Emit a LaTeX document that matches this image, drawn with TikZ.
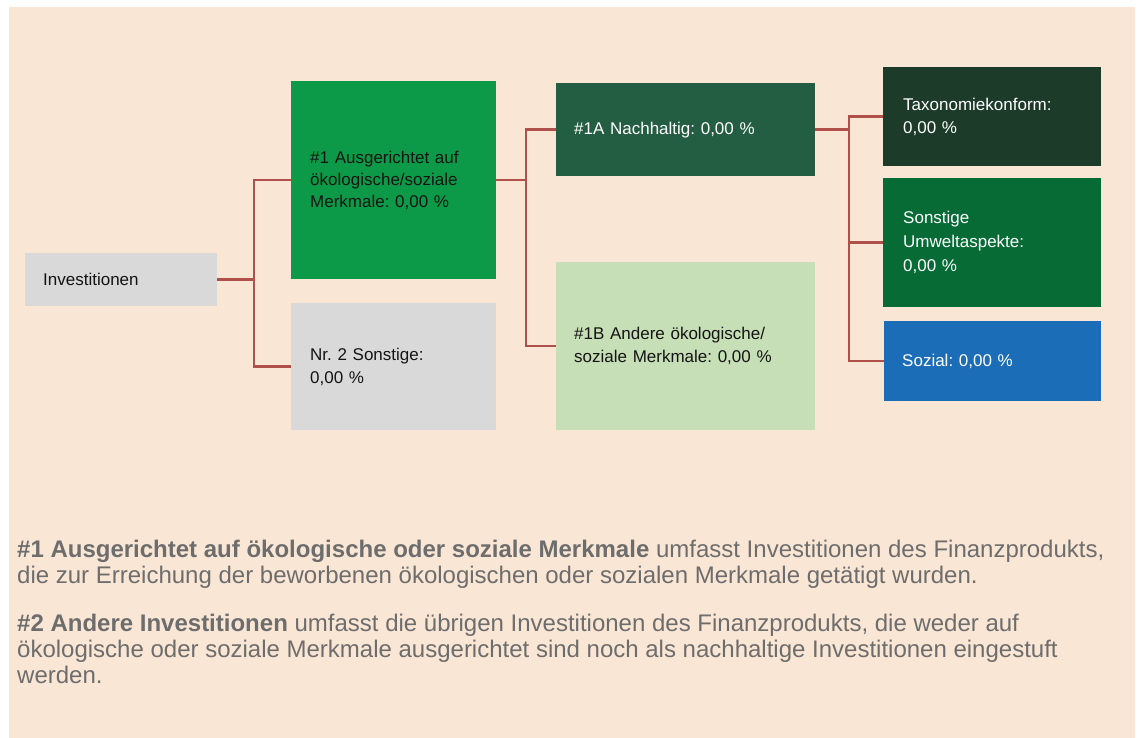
\documentclass[tikz,border=0pt]{standalone}
\usepackage{fontspec}
\setmainfont{Liberation Sans}
\frenchspacing
\definecolor{bgpeach}{HTML}{FAE6D4}
\definecolor{boxgray}{HTML}{D9D9D9}
\definecolor{greenA}{HTML}{0D9A48}
\definecolor{greenNA}{HTML}{235E42}
\definecolor{greenLB}{HTML}{C7DFB6}
\definecolor{greenTax}{HTML}{1C3B29}
\definecolor{greenSon}{HTML}{066B35}
\definecolor{blueSoz}{HTML}{1A6DB6}
\definecolor{connred}{HTML}{B0504B}
\definecolor{notegray}{HTML}{6D6D6D}
\definecolor{darktext}{HTML}{141414}
\tikzset{
  box/.style={rectangle, draw=none, anchor=north west, inner xsep=19pt, inner ysep=0pt,
    align=left, text=darktext, font=\fontsize{17}{23}\selectfont\frenchspacing},
  lighttext/.style={text=white},
  conn/.style={draw=connred, line width=2.5pt, line join=miter},
  note/.style={anchor=base west, inner sep=0pt, text=notegray, font=\fontsize{24}{26}\selectfont\frenchspacing},
}
\begin{document}
\begin{tikzpicture}[x=1pt,y=-1pt]
\useasboundingbox (0,0) rectangle (1138,738);
\fill[bgpeach] (9,7.5) rectangle (1135,738);

\node[box, fill=boxgray, minimum width=192pt, minimum height=53pt, text width=156pt, inner xsep=18pt] (inv) at (25,253) {Investitionen};
\node[box, fill=greenA, minimum width=205pt, minimum height=198pt, text width=167pt, font=\fontsize{17}{22}\selectfont\frenchspacing] (a1) at (291,81)
  {\#1 Ausgerichtet auf\\ökologische/soziale\\Merkmale: 0,00 \%};
\node[box, fill=boxgray, minimum width=205pt, minimum height=127pt, text width=167pt] (n2) at (291,303)
  {Nr. 2 Sonstige:\\0,00 \%};
\node[box, lighttext, fill=greenNA, minimum width=259pt, minimum height=93pt, text width=223pt, inner xsep=18pt] (b1a) at (556,83)
  {\#1A Nachhaltig: 0,00 \%};
\node[box, fill=greenLB, minimum width=259pt, minimum height=168pt, text width=223pt, inner xsep=18pt] (b1b) at (556,262)
  {\#1B Andere ökologische/\\soziale Merkmale: 0,00 \%};
\node[box, lighttext, fill=greenTax, minimum width=218pt, minimum height=99pt, text width=178pt, inner xsep=20pt] (tax) at (883,67)
  {Taxonomiekonform:\\0,00 \%};
\node[box, lighttext, fill=greenSon, minimum width=218pt, minimum height=129pt, text width=178pt, inner xsep=20pt, font=\fontsize{17}{24}\selectfont\frenchspacing] (son) at (883,178)
  {Sonstige\\Umweltaspekte:\\0,00 \%};
\node[box, lighttext, fill=blueSoz, minimum width=217pt, minimum height=80pt, text width=181pt, inner xsep=18pt] (soz) at (884,321)
  {Sozial: 0,00 \%};

\coordinate (j1) at (254,280);
\coordinate (j2) at (526,180);
\coordinate (j3) at (849,129);

\draw[conn] (inv.east) -- (inv.east -| j1);
\draw[conn] (a1.west) -- (a1.west -| j1) -- (n2.west -| j1) -- (n2.west);
\draw[conn] (a1.east) -- (a1.east -| j2);
\draw[conn] (b1a.west) -- (b1a.west -| j2) -- (b1b.west -| j2) -- (b1b.west);
\draw[conn] (b1a.east) -- (b1a.east -| j3);
\draw[conn] (tax.west) -- (tax.west -| j3) -- (soz.west -| j3) -- (soz.west);
\draw[conn] (son.west) -- (son.west -| j3);

\node[note] (p1a) at (17,557) {\textbf{\#1 Ausgerichtet auf ökologische oder soziale Merkmale} umfasst Investitionen des Finanzprodukts,};
\node[note] (p1b) at (17,583) {die zur Erreichung der beworbenen ökologischen oder sozialen Merkmale getätigt wurden.};
\node[note] (p2a) at (17,631) {\textbf{\#2 Andere Investitionen} umfasst die übrigen Investitionen des Finanzprodukts, die weder auf};
\node[note] (p2b) at (17,657) {ökologische oder soziale Merkmale ausgerichtet sind noch als nachhaltige Investitionen eingestuft};
\node[note] (p2c) at (17,683) {werden.};
\end{tikzpicture}
\end{document}
